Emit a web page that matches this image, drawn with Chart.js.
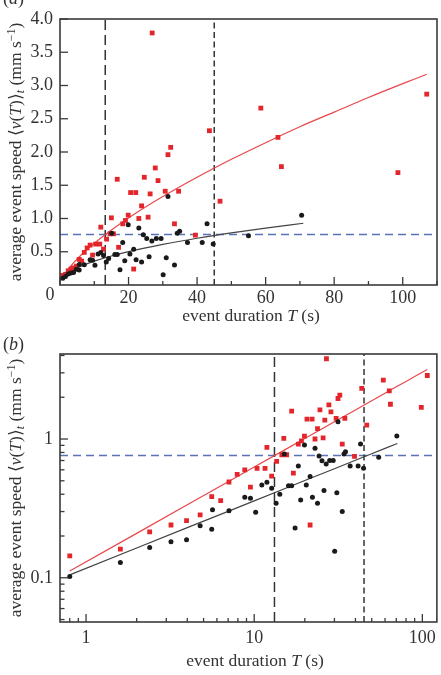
<!DOCTYPE html>
<html><head><meta charset="utf-8">
<script src="https://cdn.jsdelivr.net/npm/chart.js@4/dist/chart.umd.min.js"></script>
<style>
html,body{margin:0;padding:0;background:#fff;}
#wrap{position:relative;width:441px;height:675px;overflow:hidden;background:#fff;font-family:"Liberation Serif","DejaVu Serif",serif;color:#333;}
canvas{position:absolute;left:0;}
.lbl{position:absolute;white-space:nowrap;font-size:17.5px;color:#333;}
.ytitle{position:absolute;white-space:nowrap;font-size:17.5px;color:#333;transform:translate(-50%,-50%) rotate(-90deg);}
sub{font-size:12px;vertical-align:-3px;}
sup{font-size:12px;vertical-align:6px;}
</style></head>
<body><div id="wrap">
<canvas id="ca" width="441" height="340" style="top:0"></canvas>
<canvas id="cb" width="441" height="340" style="top:335px"></canvas>
<div class="lbl" style="left:3px;top:-12px;font-size:18px">(<i>a</i>)</div>
<div class="lbl" style="left:3px;top:334px;font-size:18px">(<i>b</i>)</div>
<div class="ytitle" style="left:16px;top:152px">average event speed ⟨<i>v</i>(<i>T</i>)⟩<sub><i>t</i></sub> (mm s<sup>−1</sup>)</div>
<div class="ytitle" style="left:16px;top:488px">average event speed ⟨<i>v</i>(<i>T</i>)⟩<sub><i>t</i></sub> (mm s<sup>−1</sup>)</div>
<div class="lbl" style="left:251px;top:305px;transform:translateX(-50%)">event duration <i>T</i> (s)</div>
<div class="lbl" style="left:255px;top:650px;transform:translateX(-50%)">event duration <i>T</i> (s)</div>
</div>
<script>
// red squares (T, <v>)
const redT = [0.80,1.6,2.39,3.2,3.96,4.77,5.59,6.32,7.08,7.92,8.79,9.5,10.4,11.6,11.9,12.7,13.6,14.6,15.6,15.0,16.7,17.1,18.3,19.1,19.9,20.6,21.5,22.1,23.0,23.8,24.6,25.7,26.3,26.9,27.8,28.6,30.7,31.5,32.3,33.4,34.6,39.5,43.6,46.7,58.6,63.6,64.6,98.6,107];
const redV = [0.144,0.161,0.214,0.24,0.258,0.284,0.385,0.36,0.49,0.557,0.60,0.45,0.615,0.615,0.87,0.54,0.69,0.77,0.77,1.01,1.59,0.567,0.92,0.97,1.05,1.39,0.24,1.39,1.0,1.19,1.62,1.02,1.37,3.79,1.76,1.57,1.41,1.96,2.07,0.92,1.41,0.75,2.32,1.26,2.66,2.22,1.78,1.69,2.87];
// black circles (T, <v>)
const blackT = [0.80,1.6,2.39,3.2,3.96,4.77,5.59,5.65,7.08,8.79,9.5,10.2,11.1,11.9,12.7,13.5,14.2,15.1,16.0,16.7,17.5,18.3,18.9,19.9,20.4,21.5,22.2,23.0,23.8,24.3,25.3,26.0,26.8,28.1,29.5,30.1,31.0,31.5,33.4,34.2,34.9,37.2,41.5,42.9,44.7,55,70.5];
const blackV = [0.102,0.129,0.165,0.182,0.188,0.237,0.224,0.309,0.304,0.38,0.374,0.297,0.467,0.488,0.442,0.344,0.40,0.78,0.46,0.46,0.228,0.64,0.364,0.906,0.467,0.536,0.38,0.857,0.344,0.755,0.698,0.425,0.66,0.70,0.70,0.155,0.41,1.33,0.30,0.78,0.81,0.64,0.64,0.92,0.615,0.74,1.05];
// fitted curves
const redFitT = [0.8,2,4,7,10,15,20,30,40,50,60,70,80,90,107];
const redFitV = [0.112,0.209,0.336,0.492,0.628,0.828,1.009,1.33,1.62,1.89,2.14,2.38,2.60,2.82,3.17];
const blackFitT = [0.8,2,4,7,10,15,20,30,40,50,60,71];
const blackFitV = [0.105,0.164,0.230,0.301,0.358,0.436,0.502,0.611,0.703,0.783,0.856,0.929];
// reference lines
const durationMarks = [13.2, 45];
const speedLevel = 0.76;
// axes
const xTicksA = [0,20,40,60,80,100];
const xMinorA = [10,30,50,70,90,110];
const yTicksA = [0.5,1.0,1.5,2.0,2.5,3.0,3.5,4.0];
const xRangeA = [0,110];
const yRangeA = [0,4.0];
const xTicksB = [1,10,100];
const xMinorB = [0.8,0.9,2,3,4,5,6,7,8,9,20,30,40,50,60,70,80,90];
const yTicksB = [0.1,1];
const yMinorB = [0.05,0.06,0.07,0.08,0.09,0.2,0.3,0.4,0.5,0.6,0.7,0.8,0.9,2,3,4];
const xRangeB = [0.7,122];
const yRangeB = [0.048,4.1];

const RED='#e3262b', REDL='#e8474a', BLK='#1a1a1a', AX='#3a3a3a', BLUE='#5a72b6';
const pts=(xs,ys)=>xs.map((x,i)=>({x:x,y:ys[i]}));

function makeChart(id, log, xr, yr, xt, xminor, yt, yminor, showZero){
  const ds = [];
  durationMarks.forEach((m,i)=>ds.push({type:'line',data:[{x:m,y:yr[0]},{x:m,y:yr[1]}],borderColor:'#333',borderWidth:1.5,borderDash:i===0?[10,5]:[6,3.5],pointRadius:0,order:5}));
  ds.push({type:'line',data:[{x:xr[0],y:speedLevel},{x:xr[1],y:speedLevel}],borderColor:BLUE,borderWidth:1.6,borderDash:[8,5],pointRadius:0,order:5});
  ds.push({type:'line',data:pts(redFitT,redFitV),borderColor:REDL,borderWidth:1.2,pointRadius:0,cubicInterpolationMode:log?'default':'monotone',tension:0,order:4});
  ds.push({type:'line',data:pts(blackFitT,blackFitV),borderColor:'#444',borderWidth:1.2,pointRadius:0,cubicInterpolationMode:log?'default':'monotone',tension:0,order:4});
  ds.push({type:'scatter',data:pts(redT,redV),pointStyle:'rect',pointRadius:3.4,backgroundColor:RED,borderWidth:0,order:2});
  ds.push({type:'scatter',data:pts(blackT,blackV),pointStyle:'circle',pointRadius:2.5,backgroundColor:BLK,borderWidth:0,order:1});

  const tickFont={family:'"Liberation Serif", serif',size:18};
  const framePlugin={id:'frame',afterDraw(c){
    const ctx=c.ctx, a=c.chartArea, xs=c.scales.x, ys=c.scales.y;
    ctx.save();
    ctx.strokeStyle=AX; ctx.lineWidth=1.6;
    ctx.strokeRect(a.left,a.top,a.right-a.left,a.bottom-a.top);
    ctx.lineWidth=1.3;
    const tk=(list,len,isX)=>list.forEach(v=>{
      if(isX){const p=xs.getPixelForValue(v); if(p<a.left-0.5||p>a.right+0.5) return; ctx.beginPath();ctx.moveTo(p,a.bottom);ctx.lineTo(p,a.bottom-len);ctx.stroke();}
      else {const p=ys.getPixelForValue(v); if(p<a.top-0.5||p>a.bottom+0.5) return; ctx.beginPath();ctx.moveTo(a.left,p);ctx.lineTo(a.left+len,p);ctx.stroke();}
    });
    tk(xt,8,true); tk(xminor,4,true); tk(yt,8,false); tk(yminor,4.5,false);
    if(showZero){ctx.fillStyle='#333';ctx.font='18px "Liberation Serif", serif';ctx.textAlign='center';ctx.textBaseline='top';ctx.fillText('0',a.left-10,a.bottom+1);}
    ctx.restore();
  }};
  return new Chart(document.getElementById(id),{
    data:{datasets:ds},
    options:{responsive:false,animation:false,devicePixelRatio:1,
      layout:{padding:{left:0,top:19,right:1,bottom:0}},
      plugins:{legend:{display:false},tooltip:{enabled:false}},
      scales:{
        x:{type:log?'logarithmic':'linear',min:xr[0],max:xr[1],
          grid:{display:false,drawTicks:false},border:{display:false},
          afterBuildTicks:s=>{s.ticks=xt.map(v=>({value:v}));},
          afterFit:s=>{s.height=log?53:55;},
          ticks:{font:tickFont,color:'#333',padding:log?5:2,maxRotation:0,autoSkip:false,
            callback:v=>(v===0?'':String(v))}},
        y:{type:log?'logarithmic':'linear',min:yr[0],max:yr[1],
          grid:{display:false,drawTicks:false},border:{display:false},
          afterBuildTicks:s=>{s.ticks=yt.map(v=>({value:v}));},
          afterFit:s=>{s.width=60;},
          ticks:{font:tickFont,color:'#333',padding:7,autoSkip:false,
            callback:v=>(log?String(v):Number(v).toFixed(1))}}
      }},
    plugins:[framePlugin]
  });
}
makeChart('ca',false,xRangeA,yRangeA,xTicksA,xMinorA,yTicksA,[],true);
makeChart('cb',true,xRangeB,yRangeB,xTicksB,xMinorB,yTicksB,yMinorB,false);
</script>
</body></html>
